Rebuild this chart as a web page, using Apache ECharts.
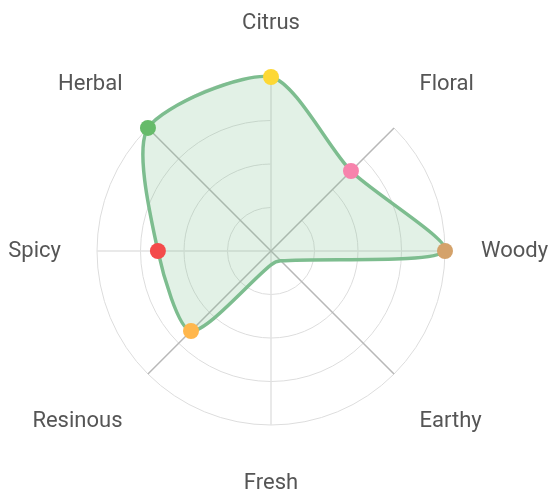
<!DOCTYPE html>
<html>
<head>
<meta charset="utf-8">
<script src="https://cdn.jsdelivr.net/npm/echarts@6/dist/echarts.min.js"></script>
<style>
  html, body { margin: 0; padding: 0; background: #fff; }
  #chart { width: 549px; height: 495px; }
</style>
</head>
<body>
<div id="chart"></div>
<script>
// notes, listed counter-clockwise starting from the top
var notes = ['Citrus', 'Herbal', 'Spicy', 'Resinous', 'Fresh', 'Earthy', 'Woody', 'Floral'];
var intensity = [10, 10, 6.5, 6.5, 0.8, 0.8, 10, 6.5];
var scaleMax = 10;

// marker colour per note (null = no marker)
var markerColors = ['#FDD835', '#66BB6A', '#F44B4B', '#FFB74D', null, null, '#D4A26A', '#F783AC'];

var lineColor = '#7dbd8f';

var markers = [];
for (var i = 0; i < notes.length; i++) {
    if (!markerColors[i]) continue;
    markers.push({ value: [intensity[i], i], itemStyle: { color: markerColors[i], opacity: 1 } });
}

var option = {
    animation: false,
    polar: {
        center: [271, 251],
        radius: 174
    },
    angleAxis: {
        type: 'category',
        data: notes,
        boundaryGap: false,
        startAngle: 90,
        clockwise: false,
        axisLine: { show: false },
        axisTick: { show: false },
        axisLabel: {
            margin: 36,
            padding: [11, 0, 7, 0],
            color: '#555',
            fontSize: 22,
            fontFamily: 'Roboto'
        },
        // straight spokes light, diagonal spokes darker
        splitLine: { show: true, lineStyle: { color: ['#e2e2e2', '#b8b8b8'], width: 1.5 } }
    },
    radiusAxis: {
        type: 'value',
        min: 0,
        max: scaleMax,
        interval: 2.5,
        axisLine: { show: false },
        axisTick: { show: false },
        axisLabel: { show: false },
        splitLine: { show: true, lineStyle: { color: '#ddd', width: 1 } }
    },
    series: [
        {
            type: 'custom',
            coordinateSystem: 'polar',
            data: intensity.map(function (v, i) { return [v, i]; }),
            encode: { radius: 0, angle: 1 },
            renderItem: function (params, api) {
                if (params.dataIndex !== 0) return;
                var pts = intensity.map(function (v, i) { return api.coord([v, i]); });
                return {
                    type: 'polygon',
                    shape: { points: pts, smooth: 0.25 },
                    style: {
                        fill: 'rgba(125,189,143,0.22)',
                        stroke: lineColor,
                        lineWidth: 3.5
                    }
                };
            },
            z: 2
        },
        {
            type: 'scatter',
            coordinateSystem: 'polar',
            symbol: 'circle',
            symbolSize: 16,
            data: markers,
            z: 3
        }
    ]
};

var myChart = echarts.init(document.getElementById('chart'));
myChart.setOption(option);
</script>
</body>
</html>
